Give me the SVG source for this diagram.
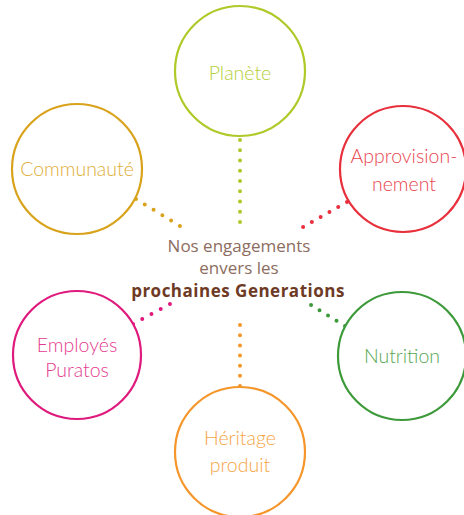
<svg xmlns="http://www.w3.org/2000/svg" width="464" height="515" viewBox="0 0 464 515">
<style>
.ring{fill:#fff;stroke-width:2.2}
.lbl{font-family:Lato,"Open Sans","Liberation Sans",sans-serif;font-weight:300;font-size:19.5px;text-anchor:middle}
.dots{fill:none;stroke-width:4;stroke-linecap:round}
.ctr{font-family:"Open Sans",Lato,"Liberation Sans",sans-serif;font-size:17px;text-anchor:middle}
</style>
<rect width="464" height="515" fill="#fff"/>
<g id="connectors">
<line class="dots" x1="240" y1="140" x2="240" y2="222" stroke="#afc928" stroke-dasharray="0 10.24"/>
<line class="dots" x1="347" y1="202" x2="303" y2="227" stroke="#e8303c" stroke-dasharray="0 10.1"/>
<line class="dots" x1="136" y1="199" x2="180" y2="226" stroke="#d9a21b" stroke-dasharray="0 10.3"/>
<line class="dots" x1="133" y1="324" x2="170" y2="304" stroke="#e0197d" stroke-dasharray="0 10.5"/>
<line class="dots" x1="345" y1="326" x2="311" y2="305" stroke="#3d9a3a" stroke-dasharray="0 9.98"/>
<line class="dots" x1="240" y1="386" x2="240" y2="325" stroke="#f5962a" stroke-dasharray="0 10.15"/>
</g>
<g id="planete">
<circle class="ring" cx="240" cy="71" r="65" stroke="#afc928"/>
<text class="lbl" x="240" y="80" fill="#b7cf3a">Planète</text>
</g>
<g id="approvisionnement">
<circle class="ring" cx="403" cy="169" r="63" stroke="#e8303c"/>
<text class="lbl" x="404" y="163" fill="#ea4450">Approvision-</text>
<text class="lbl" x="404" y="191" fill="#ea4450">nement</text>
</g>
<g id="communaute">
<circle class="ring" cx="77" cy="169" r="65" stroke="#d9a21b"/>
<text class="lbl" x="77" y="176" fill="#deae38">Communauté</text>
</g>
<g id="employes">
<circle class="ring" cx="77" cy="355" r="64" stroke="#e0197d"/>
<text class="lbl" x="77" y="352" fill="#e43b8f">Employés</text>
<text class="lbl" x="77" y="377" fill="#e43b8f">Puratos</text>
</g>
<g id="nutrition">
<circle class="ring" cx="402" cy="356" r="64" stroke="#3d9a3a"/>
<text class="lbl" x="402" y="363" fill="#55a752">Nutrition</text>
</g>
<g id="heritage">
<circle class="ring" cx="240" cy="452" r="65" stroke="#f5962a"/>
<text class="lbl" x="240" y="445" fill="#f6a445">Héritage</text>
<text class="lbl" x="240" y="472" fill="#f6a445">produit</text>
</g>
<g id="center">
<text class="ctr" x="239" y="252" fill="#8c6d60">Nos engagements</text>
<text class="ctr" x="239" y="274" fill="#8c6d60">envers les</text>
<text class="ctr" x="238" y="297" fill="#6e3a24" font-weight="bold" font-size="18" letter-spacing="0.5">prochaines Generations</text>
</g>
</svg>
